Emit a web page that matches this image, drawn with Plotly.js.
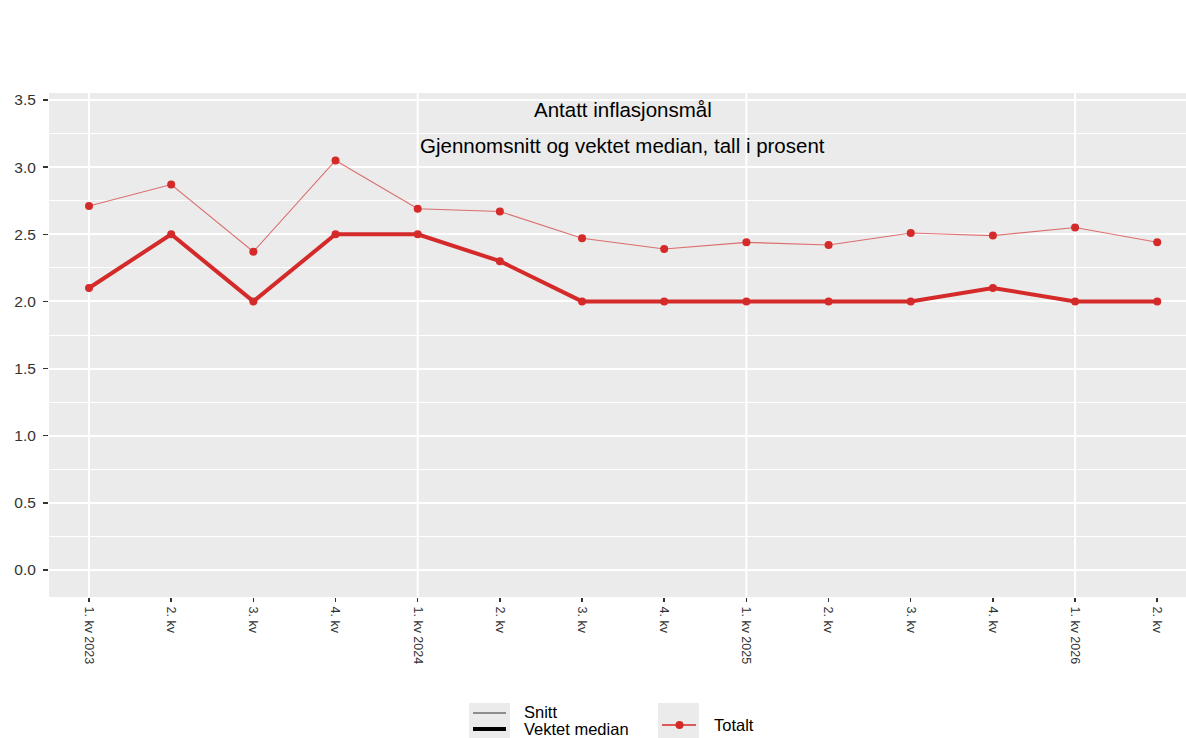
<!DOCTYPE html>
<html>
<head>
<meta charset="utf-8">
<script src="https://cdn.plot.ly/plotly-3.0.1.min.js"></script>
<style>
  html, body { margin: 0; padding: 0; background: #ffffff; }
  #chart { width: 1186px; height: 738px; }
</style>
</head>
<body>
<div id="chart"></div>
<script>
// ---- Data ----
const quarterLabels = ["1. kv 2023", "2. kv", "3. kv", "4. kv",
                       "1. kv 2024", "2. kv", "3. kv", "4. kv",
                       "1. kv 2025", "2. kv", "3. kv", "4. kv",
                       "1. kv 2026", "2. kv"];
const snitt = [2.71, 2.87, 2.37, 3.05, 2.69, 2.67, 2.47, 2.39, 2.44, 2.42, 2.51, 2.49, 2.55, 2.44];
const vektetMedian = [2.1, 2.5, 2.0, 2.5, 2.5, 2.3, 2.0, 2.0, 2.0, 2.0, 2.0, 2.1, 2.0, 2.0];
const yTicks = [0.0, 0.5, 1.0, 1.5, 2.0, 2.5, 3.0, 3.5];
const titleLines = ["Antatt inflasjonsmål", "Gjennomsnitt og vektet median, tall i prosent"];
const legendGroupA = ["Snitt", "Vektet median"];
const legendGroupB = ["Totalt"];

// ---- Layout geometry (pixels) ----
const W = 1186, H = 738;
const L = 49, R = 0, T = 93, B = 141;
const PW = W - L - R, PH = H - T - B;
const px2x = p => (p - L) / PW;
const px2y = p => (T + PH - p) / PH;

const red = "#d42a2a";
const font = "Liberation Sans, Arial, sans-serif";
const xIdx = quarterLabels.map((_, i) => i);

const traces = [
  {
    x: xIdx, y: snitt, type: "scatter", mode: "lines+markers",
    line: { color: "rgba(212,42,42,0.65)", width: 1.1 },
    marker: { color: red, size: 8 },
    showlegend: false, hoverinfo: "y"
  },
  {
    x: xIdx, y: vektetMedian, type: "scatter", mode: "lines+markers",
    line: { color: red, width: 4 },
    marker: { color: red, size: 8 },
    showlegend: false, hoverinfo: "y"
  }
];

const shapes = [];
// vertical gridlines at year starts (labels containing a year)
quarterLabels.forEach((lab, i) => {
  if (/\d{4}/.test(lab)) {
    shapes.push({ type: "line", xref: "x", yref: "paper", x0: i, x1: i, y0: 0, y1: 1,
                  line: { color: "#ffffff", width: 2 }, layer: "below" });
  }
});

// legend keys
const box = (x0, x1, y0, y1) => ({ type: "rect", xref: "paper", yref: "paper",
  x0: px2x(x0), x1: px2x(x1), y0: px2y(y1), y1: px2y(y0),
  fillcolor: "#ebebeb", line: { width: 0 } });
shapes.push(box(469, 510, 703, 740));
shapes.push(box(658, 699, 703, 740));
shapes.push({ type: "line", xref: "paper", yref: "paper", x0: px2x(473), x1: px2x(506),
  y0: px2y(713), y1: px2y(713), line: { color: "#000000", width: 0.8 } });
shapes.push({ type: "line", xref: "paper", yref: "paper", x0: px2x(473), x1: px2x(506),
  y0: px2y(729), y1: px2y(729), line: { color: "#000000", width: 3.8 } });
shapes.push({ type: "line", xref: "paper", yref: "paper", x0: px2x(662), x1: px2x(696),
  y0: px2y(725), y1: px2y(725), line: { color: red, width: 1.5 } });
shapes.push({ type: "circle", xref: "paper", yref: "paper", x0: px2x(675.5), x1: px2x(683.5),
  y0: px2y(729), y1: px2y(721), fillcolor: red, line: { width: 0 } });

const annotations = [
  { text: titleLines[0], xref: "paper", yref: "paper", x: px2x(623), y: px2y(109),
    showarrow: false, xanchor: "center", yanchor: "middle", font: { family: font, size: 20.5, color: "#000" } },
  { text: titleLines[1], xref: "paper", yref: "paper", x: px2x(622), y: px2y(145),
    showarrow: false, xanchor: "center", yanchor: "middle", font: { family: font, size: 20.5, color: "#000" } },
  { text: legendGroupA[0], xref: "paper", yref: "paper", x: px2x(522), y: px2y(712),
    showarrow: false, xanchor: "left", yanchor: "middle", font: { family: font, size: 16.5, color: "#000" } },
  { text: legendGroupA[1], xref: "paper", yref: "paper", x: px2x(522), y: px2y(729),
    showarrow: false, xanchor: "left", yanchor: "middle", font: { family: font, size: 16.5, color: "#000" } },
  { text: legendGroupB[0], xref: "paper", yref: "paper", x: px2x(712), y: px2y(725),
    showarrow: false, xanchor: "left", yanchor: "middle", font: { family: font, size: 16.5, color: "#000" } }
];

const layout = {
  width: W, height: H,
  margin: { l: L, r: R, t: T, b: B, pad: 0 },
  paper_bgcolor: "#ffffff",
  plot_bgcolor: "#ebebeb",
  font: { family: font, color: "#333333" },
  showlegend: false,
  xaxis: {
    range: [-0.487, 13.35],
    tickmode: "array", tickvals: xIdx, ticktext: quarterLabels,
    tickangle: 90, tickfont: { size: 12.5, color: "#333333" },
    ticks: "outside", ticklen: 4, tickwidth: 1.5, tickcolor: "#333333",
    ticklabelstandoff: 2,
    showgrid: false, zeroline: false, showline: false, fixedrange: true
  },
  yaxis: {
    range: [-0.201, 3.552],
    tickmode: "array", tickvals: yTicks, ticktext: yTicks.map(v => v.toFixed(1)),
    tickfont: { size: 15.5, color: "#333333" },
    ticks: "outside", ticklen: 5, tickwidth: 1.5, tickcolor: "#333333",
    ticklabelstandoff: 4,
    showgrid: true, gridcolor: "#ffffff", gridwidth: 2,
    minor: { tickvals: yTicks.slice(0, -1).map(v => v + 0.25), showgrid: true,
             gridcolor: "#ffffff", gridwidth: 1, ticks: "" },
    zeroline: false, showline: false, fixedrange: true
  },
  shapes: shapes,
  annotations: annotations
};

Plotly.newPlot("chart", traces, layout, { displayModeBar: false, staticPlot: true });
</script>
</body>
</html>
